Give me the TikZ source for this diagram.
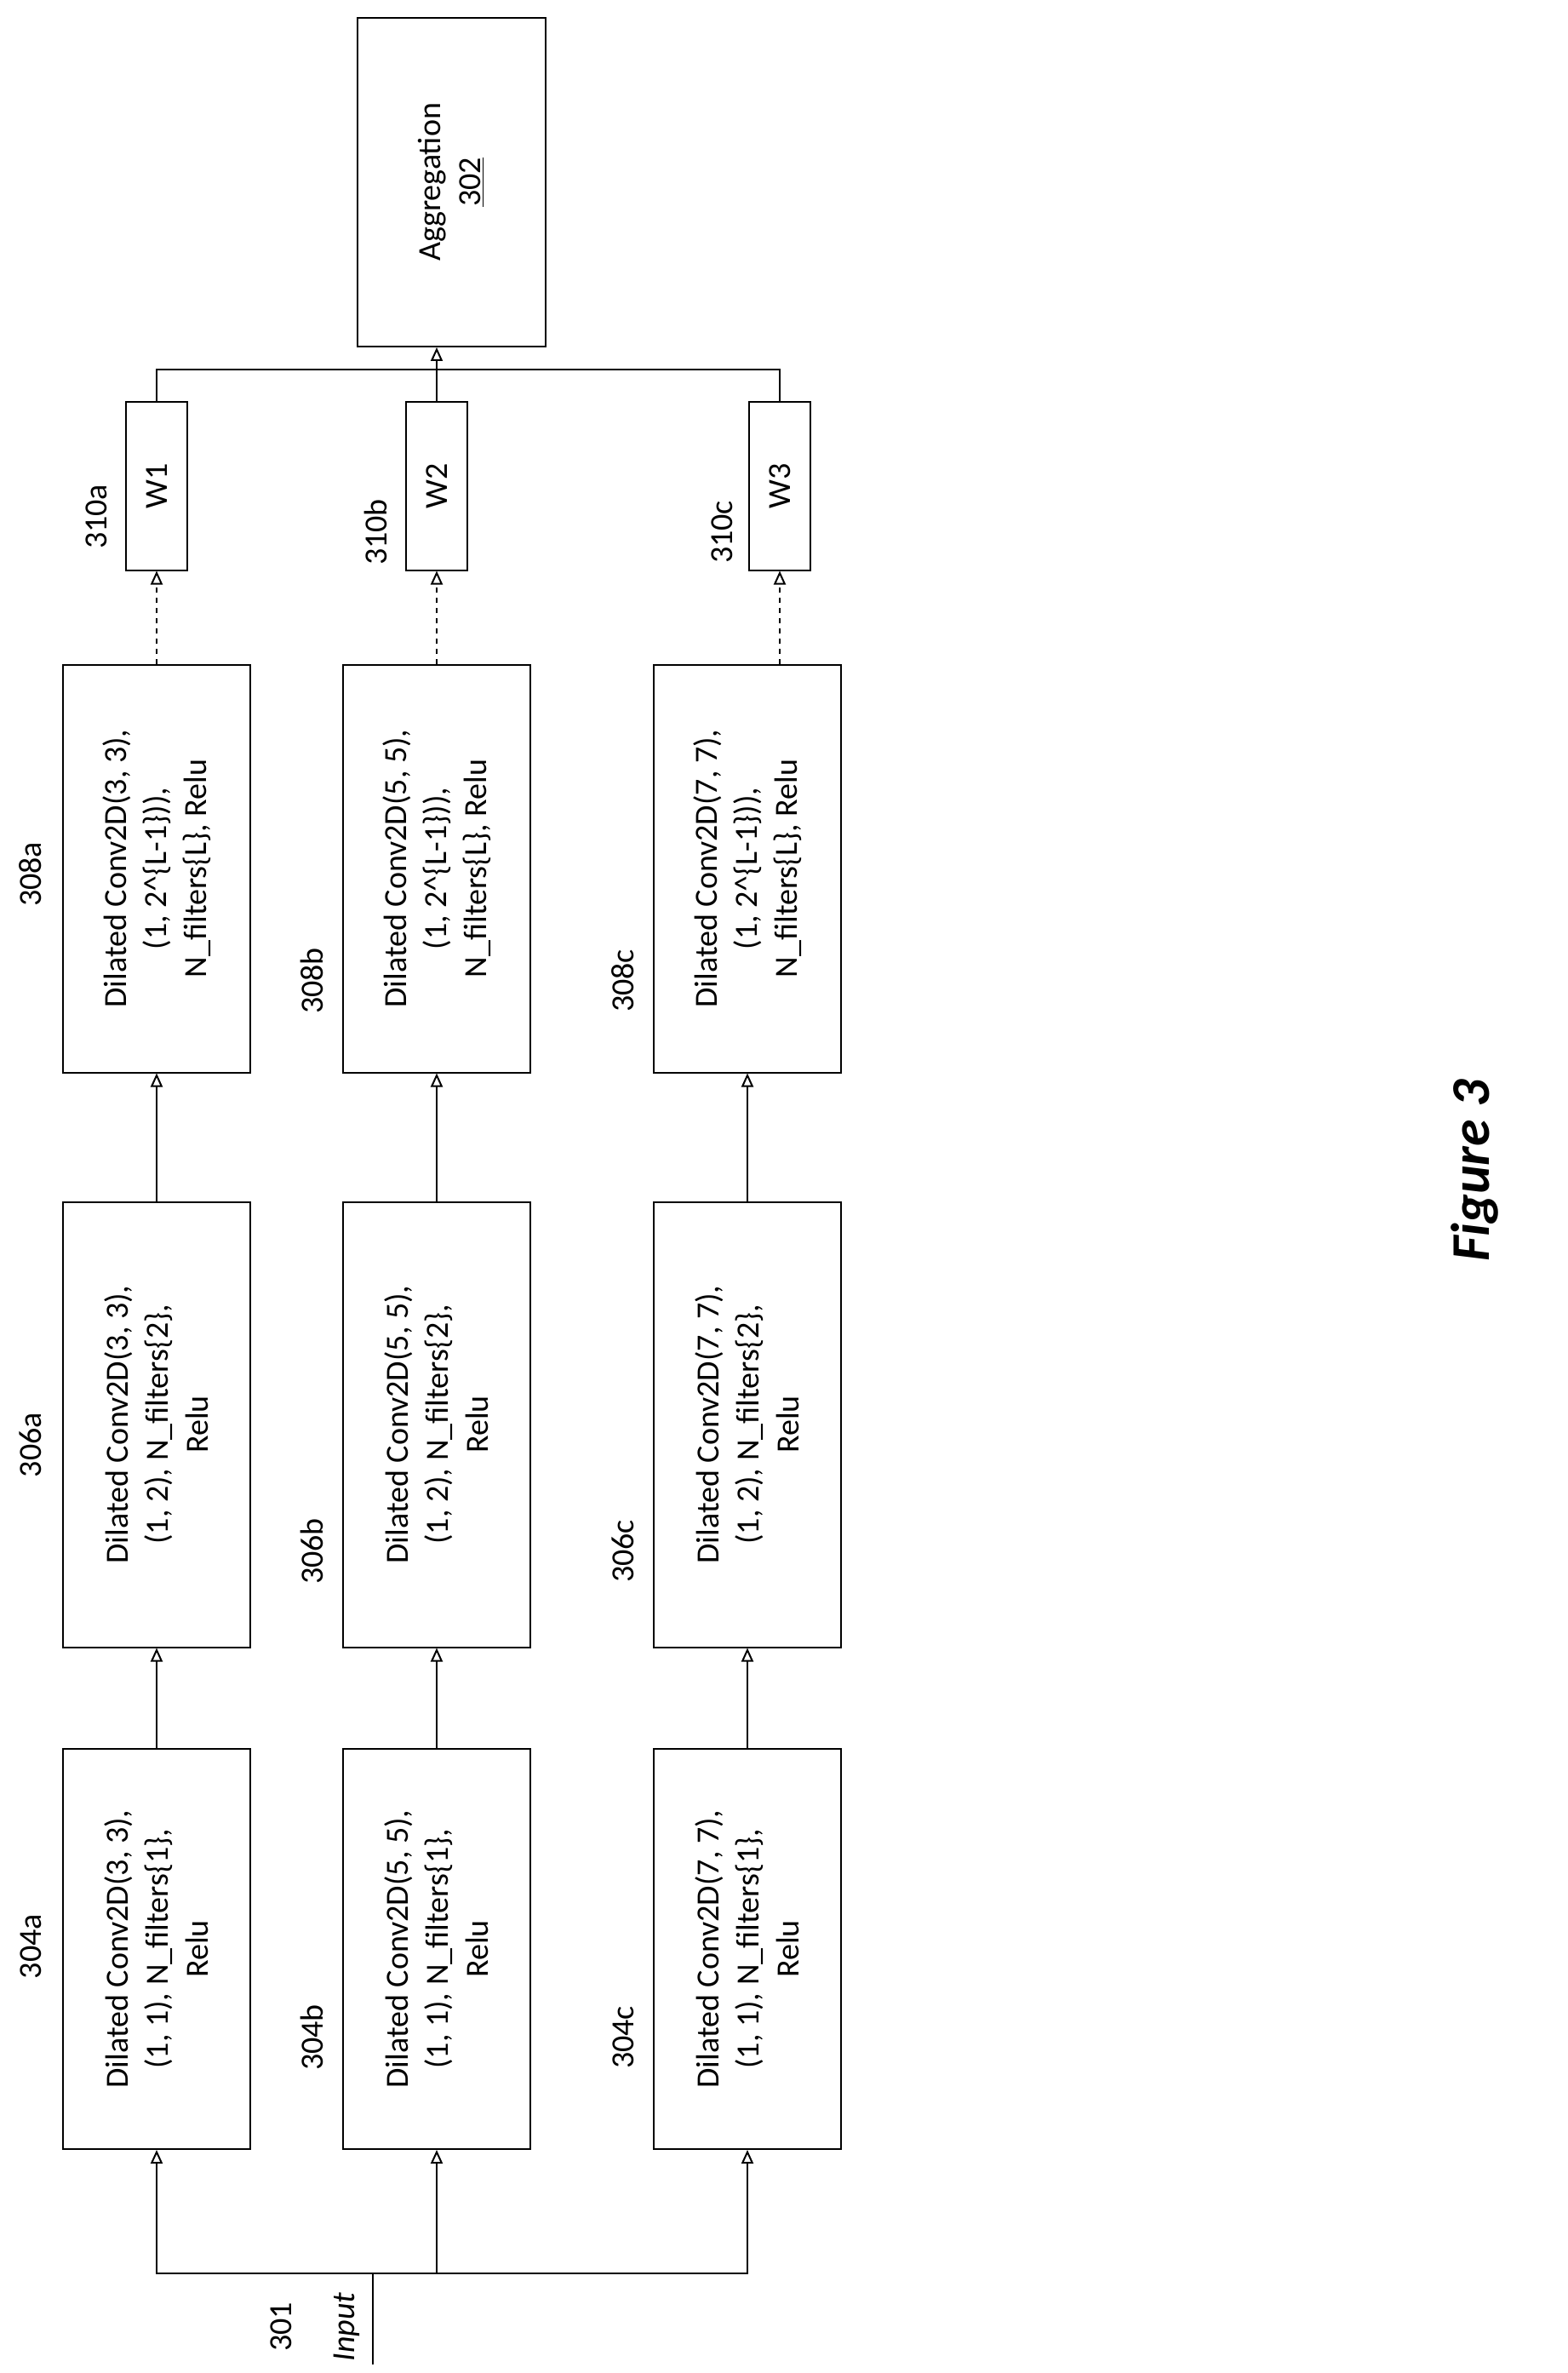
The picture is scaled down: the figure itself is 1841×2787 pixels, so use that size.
\documentclass[tikz,border=0pt]{standalone}
\usepackage{fontspec}
\setmainfont{Carlito}
\usetikzlibrary{arrows.meta}
\begin{document}
\begin{tikzpicture}[x=0.5pt,y=-0.5pt,
  box/.style={draw,line width=1pt,rotate=90,align=center,inner sep=0pt,font=\fontsize{19}{23.5}\selectfont},
  lbl/.style={rotate=90,font=\fontsize{19}{23}\selectfont},
  arr/.style={line width=1pt,-{Triangle[open,length=8pt,width=7pt]}}]
\useasboundingbox (0,0) rectangle (1841,2787);
% conv boxes: rotated, so minimum width = vertical extent
\foreach \c/\x/\k in {a/184/3, b/513/5, c/878/7}{
  \node[box,minimum width=470*0.5pt,minimum height=220*0.5pt] (c1\c) at (\x,2289) {Dilated Conv2D(\k, \k),\\(1, 1), N\_filters\{1\},\\Relu};
  \node[box,minimum width=523*0.5pt,minimum height=220*0.5pt] (c2\c) at (\x,1673) {Dilated Conv2D(\k, \k),\\(1, 2), N\_filters\{2\},\\Relu};
  \node[box,minimum width=479*0.5pt,minimum height=220*0.5pt] (c3\c) at (\x,1020) {Dilated Conv2D(\k, \k),\\(1, 2\textasciicircum\{L-1\})),\\N\_filters\{L\}, Relu};
  \draw[arr] (c1\c.east) -- (c2\c.west);
  \draw[arr] (c2\c.east) -- (c3\c.west);
}
\node[box,minimum width=197*0.5pt,minimum height=72*0.5pt] (wa) at (184,571) {W1};
\node[box,minimum width=197*0.5pt,minimum height=72*0.5pt] (wb) at (513,571) {W2};
\node[box,minimum width=197*0.5pt,minimum height=72*0.5pt] (wc) at (916,571) {W3};
\node[box,minimum width=386*0.5pt,minimum height=221*0.5pt] (agg) at (530,214) {Aggregation\\\underline{302}};
\draw[arr,dashed] (c3a.east) -- (wa.west);
\draw[arr,dashed] (c3b.east) -- (wb.west);
\draw[arr,dashed] (wc.west |- c3c.east) -- (wc.west);
% output bus
\coordinate (ob) at (513,434);
\draw[line width=1pt] (wa.east) |- (ob) -| (wc.east);
\draw[line width=1pt] (wb.east) -- (ob);
\draw[arr] (ob) -- (agg.west -| ob);
% input bus
\coordinate (ib) at (438,2670);
\coordinate (inp) at (438,2777);
\draw[line width=1pt] (inp) -- (ib);
\draw[arr] (ib) -| (c1a.west);
\draw[arr] (ib) -| (c1c.west);
\draw[arr] (c1b.west |- ib) -- (c1b.west);
\node[lbl] (l301) at (330,2733) {301};
\node[lbl,font=\fontsize{19}{23}\selectfont\itshape] (linp) at (407,2733) {Input};
\node[lbl] at (36,2286) {304a};
\node[lbl] at (366,2393) {304b};
\node[lbl] at (732,2393) {304c};
\node[lbl] at (36,1697) {306a};
\node[lbl] at (366,1822) {306b};
\node[lbl] at (732,1822) {306c};
\node[lbl] at (36,1027) {308a};
\node[lbl] at (366,1152) {308b};
\node[lbl] at (732,1152) {308c};
\node[lbl] at (113,607) {310a};
\node[lbl] at (441,625) {310b};
\node[lbl] at (848,625) {310c};
\node[rotate=90,font=\fontsize{32}{36}\selectfont\bfseries\itshape] at (1732,1375) {Figure 3};
\end{tikzpicture}
\end{document}
